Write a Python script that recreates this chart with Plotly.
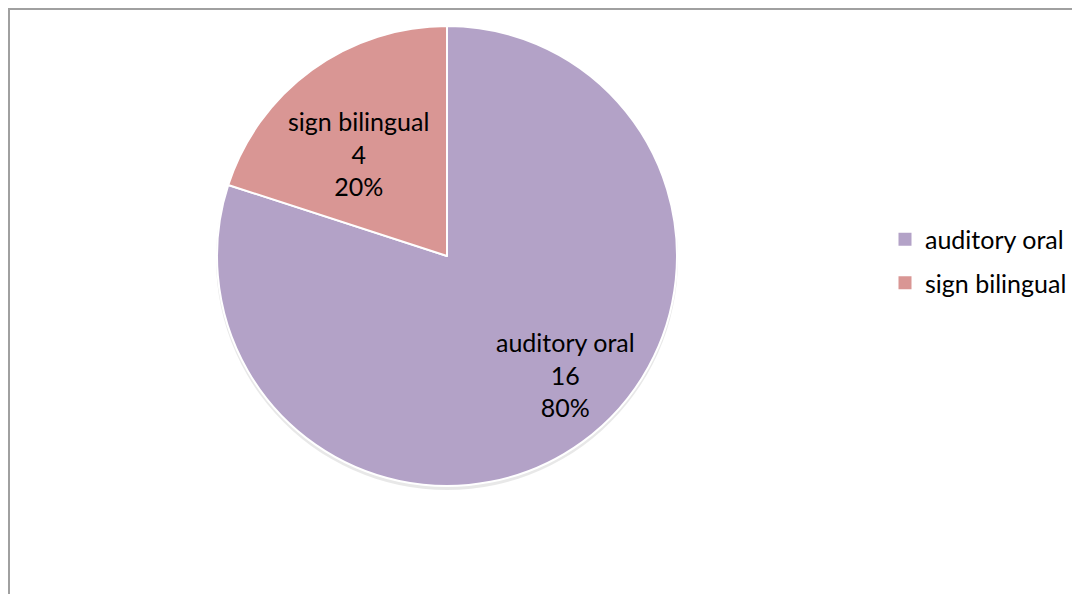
import plotly.graph_objects as go

labels = ["auditory oral", "sign bilingual"]
values = [16, 4]
colors = ["#B3A2C7", "#D99694"]

OFF = 8                      # page body margin
W, H = 1080 - OFF, 594 - OFF
cx, cy, R = 447 - OFF, 256 - OFF, 230  # pixel layout of the pie (within figure)

total = sum(values)
percents = [round(100 * v / total) for v in values]

def dom(cx, cy, R):
    return dict(x=[(cx - R) / W, (cx + R) / W], y=[1 - (cy + R) / H, 1 - (cy - R) / H])

fig = go.Figure()

# soft shadow
fig.add_trace(go.Pie(
    labels=labels, values=values, sort=False, direction="clockwise", rotation=0,
    marker=dict(colors=["rgba(0,0,0,0.09)"] * 2, line=dict(width=0)),
    textinfo="none", hoverinfo="skip", showlegend=False,
    domain=dom(cx, cy + 3, R + 1),
))

fig.add_trace(go.Pie(
    labels=labels, values=values, sort=False, direction="clockwise", rotation=0,
    marker=dict(colors=colors, line=dict(color="white", width=2)),
    textinfo="none", showlegend=False,
    domain=dom(cx, cy, R),
))

# legend entries (one group each so spacing can match)
for i, (lab, col) in enumerate(zip(labels, colors)):
    fig.add_trace(go.Scatter(
        x=[None], y=[None], mode="markers", name=lab,
        marker=dict(symbol="square", size=13, color=col),
        legendgroup=f"g{i}", showlegend=True,
    ))

label_pos = {"auditory oral": (565 - OFF, 374 - OFF), "sign bilingual": (358 - OFF, 154 - OFF)}
annotations = []
for lab, v, p in zip(labels, values, percents):
    px, py = label_pos[lab]
    annotations.append(dict(
        x=px / W, y=1 - py / H, xref="paper", yref="paper",
        text=f"{lab}<br>{v}<br>{p}%", showarrow=False,
        font=dict(family="Lato", size=25, color="black"),
        xanchor="center", yanchor="middle", align="center",
    ))

fig.update_layout(
    width=W, height=H,
    margin=dict(l=0, r=0, t=0, b=0),
    paper_bgcolor="white", plot_bgcolor="white",
    xaxis=dict(visible=False), yaxis=dict(visible=False),
    annotations=annotations,
    legend=dict(
        x=(925 - 40 - OFF) / W, y=1 - (261 - OFF) / H, xanchor="left", yanchor="middle",
        font=dict(family="Lato", size=25, color="black"),
        bgcolor="rgba(0,0,0,0)", tracegroupgap=8,
    ),
    shapes=[dict(
        type="rect", xref="paper", yref="paper",
        x0=1 / W, x1=1.02, y0=-0.02, y1=1 - 1 / H,
        line=dict(color="#a0a0a0", width=2), fillcolor="rgba(0,0,0,0)",
    )],
)

fig.write_html("out.html")
